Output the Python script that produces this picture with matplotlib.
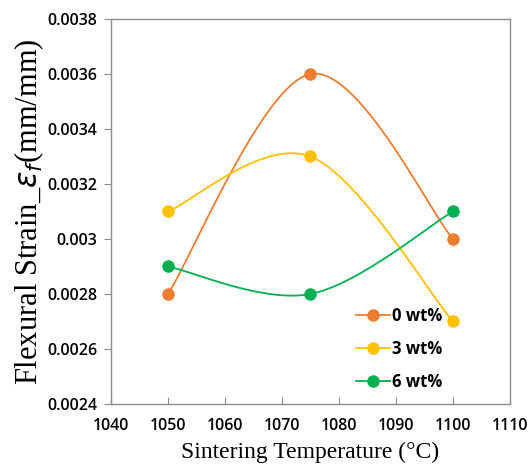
import matplotlib
matplotlib.use("Agg")
import matplotlib.pyplot as plt
import numpy as np

temps = [1050, 1075, 1100]
strain_0 = [0.0028, 0.0036, 0.0030]
strain_3 = [0.0031, 0.0033, 0.0027]
strain_6 = [0.0029, 0.0028, 0.0031]
labels = ["0 wt%", "3 wt%", "6 wt%"]
colors = ["#ED7D31", "#FFC000", "#00B050"]
ytick_labels = ["0.0024", "0.0026", "0.0028", "0.003", "0.0032",
                "0.0034", "0.0036", "0.0038"]


def smooth(xs, ys, n=60):
    # excel-like smoothed line: bezier segments with 1/6 tangent
    p = np.column_stack([xs, ys]).astype(float)
    p = np.vstack([p[0], p, p[-1]])
    out = []
    t = np.linspace(0, 1, n)[:, None]
    for i in range(1, len(p) - 2):
        p0, p1 = p[i], p[i + 1]
        c1 = p0 + (p[i + 1] - p[i - 1]) / 6
        c2 = p1 - (p[i + 2] - p[i]) / 6
        seg = (1 - t) ** 3 * p0 + 3 * (1 - t) ** 2 * t * c1 + 3 * (1 - t) * t ** 2 * c2 + t ** 3 * p1
        out.append(seg)
    out = np.vstack(out)
    return out[:, 0], out[:, 1]


fig = plt.figure(figsize=(5.3, 4.76), dpi=100)
ax = fig.add_axes([0.2094, 0.1513, 0.7528, 0.8088])

for ys, lab, col in zip([strain_0, strain_3, strain_6], labels, colors):
    sx, sy = smooth(temps, ys)
    ax.plot(sx, sy, color=col, linewidth=1.3)
    ax.plot(temps, ys, 'o', color=col, markersize=8, zorder=3)
    ax.plot([], [], '-o', color=col, markersize=8, linewidth=1.3, label=lab)

ax.set_xlim(1040, 1110)
ax.set_ylim(0.0024, 0.0038)
ax.set_xticks(np.arange(1040, 1111, 10))
ax.set_yticks(np.arange(0.0024, 0.00381, 0.0002))
ax.set_yticklabels(ytick_labels)

for s in ax.spines.values():
    s.set_color("#8c8c8c")
    s.set_linewidth(1.0)
ax.tick_params(axis="y", direction="out", color="#8c8c8c", length=5, labelsize=11.5, pad=5)
ax.tick_params(axis="x", direction="in", color="#8c8c8c", length=5, labelsize=11.5, pad=10)
ax.tick_params(top=False, right=False)
for lbl in ax.get_xticklabels() + ax.get_yticklabels():
    lbl.set_fontfamily("Open Sans")
    lbl.set_fontweight("semibold")

ax.set_xlabel("Sintering Temperature (°C)", fontfamily="Liberation Serif", fontsize=17, labelpad=6)
ax.set_ylabel(r"Flexural Strain_$\varepsilon_f$(mm/mm)", fontfamily="Liberation Serif",
              fontsize=22, labelpad=1)

leg = ax.legend(loc="center left", bbox_to_anchor=(0.615, 0.143), frameon=False,
                prop={"family": "Open Sans", "weight": "bold", "size": 12},
                handlelength=2.0, labelspacing=0.9, handletextpad=0.15,
                borderpad=0, borderaxespad=0)

plt.savefig("out.png", dpi=100)
